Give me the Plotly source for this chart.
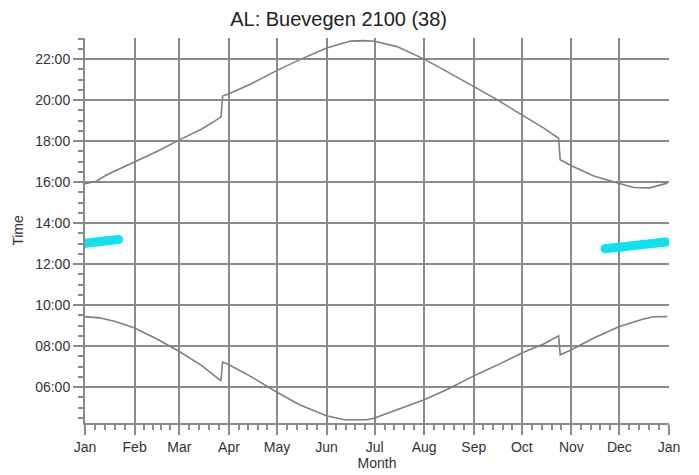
import pandas as pd
import plotly.graph_objects as go

# ---- data (hours as decimal) ----
sunset_dates = ["2021-01-01", "2021-01-08", "2021-01-15", "2021-02-01", "2021-02-15", "2021-03-01",
                "2021-03-15", "2021-03-27", "2021-03-28", "2021-04-01", "2021-04-15", "2021-05-01",
                "2021-05-16", "2021-06-01", "2021-06-16", "2021-06-24", "2021-07-01", "2021-07-15",
                "2021-08-01", "2021-08-15", "2021-09-01", "2021-09-15", "2021-10-01", "2021-10-15",
                "2021-10-24", "2021-10-25", "2021-11-01", "2021-11-15", "2021-12-01", "2021-12-10",
                "2021-12-20", "2021-12-31"]
sunset_hours = [15.92, 16.04, 16.37, 16.98, 17.49, 18.06,
                18.59, 19.17, 20.20, 20.31, 20.80, 21.45,
                22.00, 22.54, 22.88, 22.90, 22.87, 22.61,
                22.00, 21.40, 20.66, 20.05, 19.28, 18.62,
                18.14, 17.09, 16.80, 16.30, 15.93, 15.74,
                15.72, 15.95]

sunrise_dates = ["2021-01-01", "2021-01-10", "2021-01-20", "2021-02-01", "2021-02-15", "2021-03-01",
                 "2021-03-15", "2021-03-27", "2021-03-28", "2021-04-01", "2021-04-15", "2021-05-01",
                 "2021-05-15", "2021-06-01", "2021-06-12", "2021-06-26", "2021-07-01", "2021-07-15",
                 "2021-08-01", "2021-08-15", "2021-09-01", "2021-09-15", "2021-10-01", "2021-10-15",
                 "2021-10-24", "2021-10-25", "2021-11-01", "2021-11-15", "2021-12-01", "2021-12-15",
                 "2021-12-22", "2021-12-31"]
sunrise_hours = [9.44, 9.38, 9.20, 8.88, 8.35, 7.74,
                 7.05, 6.31, 7.22, 7.09, 6.50, 5.75,
                 5.14, 4.60, 4.41, 4.41, 4.49, 4.89,
                 5.38, 5.87, 6.55, 7.05, 7.66, 8.12,
                 8.50, 7.58, 7.82, 8.40, 8.96, 9.30,
                 9.43, 9.44]

shadow_jan_dates = ["2021-01-01", "2021-01-08", "2021-01-15", "2021-01-22"]
shadow_jan_hours = [13.02, 13.08, 13.15, 13.20]
shadow_dec_dates = ["2021-11-22", "2021-12-01", "2021-12-15", "2021-12-30"]
shadow_dec_hours = [12.75, 12.82, 12.95, 13.08]

month_ticks = ["2021-01-01", "2021-02-01", "2021-03-01", "2021-04-01", "2021-05-01", "2021-06-01",
               "2021-07-01", "2021-08-01", "2021-09-01", "2021-10-01", "2021-11-01", "2021-12-01",
               "2022-01-01"]
month_labels = ["Jan", "Feb", "Mar", "Apr", "May", "Jun", "Jul", "Aug", "Sep", "Oct", "Nov", "Dec", "Jan"]
hour_ticks = [6, 8, 10, 12, 14, 16, 18, 20, 22]
hour_labels = ["06:00", "08:00", "10:00", "12:00", "14:00", "16:00", "18:00", "20:00", "22:00"]

# minor ticks: each month split into 5 parts
mt = pd.to_datetime(month_ticks)
minor_x = []
for a, b in zip(mt[:-1], mt[1:]):
    for k in range(1, 5):
        minor_x.append(a + (b - a) * k / 5)
minor_y = [4.5 + 0.5 * i for i in range(38)]

GRID = "#8a8a8a"
LINE = "#7f7f7f"
CYAN = "#10E2EC"
XRANGE = ["2021-01-01", "2022-01-01"]

fig = go.Figure()
fig.add_trace(go.Scatter(x=sunset_dates, y=sunset_hours, mode="lines",
                         line=dict(color=LINE, width=1.6), showlegend=False))
fig.add_trace(go.Scatter(x=sunrise_dates, y=sunrise_hours, mode="lines", xaxis="x2",
                         line=dict(color=LINE, width=1.6), showlegend=False))
for d, h in [(shadow_jan_dates, shadow_jan_hours), (shadow_dec_dates, shadow_dec_hours)]:
    fig.add_trace(go.Scatter(x=d, y=h, mode="lines+markers",
                             line=dict(color=CYAN, width=9),
                             marker=dict(color=CYAN, size=9),
                             showlegend=False))

fig.update_layout(
    width=699, height=475,
    margin=dict(l=77, r=38, t=30, b=60),
    paper_bgcolor="white", plot_bgcolor="white",
    font=dict(family="Liberation Sans, Arial, sans-serif", size=14, color="#333333"),
    title=dict(text="AL: Buevegen 2100 (38)", x=0.473, xanchor="center",
               y=1 - 11 / 475, yanchor="middle", yref="container",
               font=dict(size=20, color="#222222")),
    xaxis=dict(
        type="date", range=XRANGE, automargin=False,
        tickmode="array", tickvals=month_ticks, ticktext=month_labels,
        showgrid=False,
        showline=True, linecolor=GRID, linewidth=2,
        ticks="outside", ticklen=10, tickwidth=2, tickcolor=GRID,
        minor=dict(tickmode="array", tickvals=minor_x, ticks="outside", ticklen=5,
                   tickwidth=1.5, tickcolor=GRID, showgrid=False),
        zeroline=False,
        title=dict(text="Month", standoff=2, font=dict(size=14)),
    ),
    xaxis2=dict(
        type="date", range=XRANGE, overlaying="x", anchor="y", side="bottom",
        automargin=False,
        tickmode="array", tickvals=month_ticks[:-1],
        showticklabels=False, ticks="",
        showgrid=True, gridcolor=GRID, gridwidth=2,
        showline=False, zeroline=False,
    ),
    yaxis=dict(
        range=[4.25, 23.03], automargin=False,
        tickmode="array", tickvals=hour_ticks, ticktext=hour_labels,
        showgrid=True, gridcolor=GRID, gridwidth=2,
        showline=True, linecolor=GRID, linewidth=2,
        ticks="outside", ticklen=10, tickwidth=2, tickcolor=GRID,
        minor=dict(tickmode="array", tickvals=minor_y, ticks="outside", ticklen=5,
                   tickwidth=1.5, tickcolor=GRID, showgrid=False),
        zeroline=False,
        title=dict(text="Time", standoff=8, font=dict(size=14)),
    ),
)

fig.write_html("out.html")
